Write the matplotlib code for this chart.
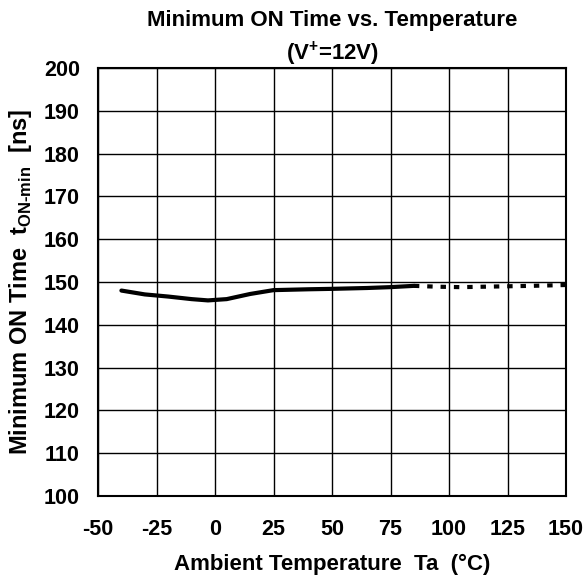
import numpy as np
import matplotlib.pyplot as plt

plt.rcParams['font.family'] = ['Liberation Sans', 'DejaVu Sans']
plt.rcParams['font.weight'] = 'bold'
plt.rcParams['mathtext.fontset'] = 'custom'
plt.rcParams['mathtext.rm'] = 'Liberation Sans:bold'
plt.rcParams['mathtext.bf'] = 'Liberation Sans:bold'

# measured (solid) part
temp_solid = [-40, -30, -20, -10, -3, 5, 15, 25, 40, 50, 65, 75, 85]
ton_solid = [148.0, 147.1, 146.6, 146.0, 145.7, 146.0, 147.2, 148.1, 148.3, 148.4, 148.6, 148.8, 149.1]
# extrapolated (dashed) part
temp_dash = [85, 95, 105, 115, 125, 135, 150]
ton_dash = [149.1, 148.9, 148.8, 148.9, 149.0, 149.1, 149.3]

xticks = [-50, -25, 0, 25, 50, 75, 100, 125, 150]
yticks = [100, 110, 120, 130, 140, 150, 160, 170, 180, 190, 200]

fig = plt.figure(figsize=(5.87, 5.79), dpi=100)
ax = fig.add_axes([98/587, 1-496/579, 468/587, 428/579])

ax.plot(temp_solid, ton_solid, color='black', lw=3, solid_capstyle='round')
ax.plot(temp_dash, ton_dash, color='black', lw=3, dashes=(1.3, 1.9))

ax.set_xlim(-50, 150)
ax.set_ylim(100, 200)
ax.set_xticks(xticks)
ax.set_yticks(yticks)
ax.set_xticklabels([str(t) for t in xticks], fontsize=15.5, fontweight='bold')
ax.set_yticklabels([str(t) for t in yticks], fontsize=15.5, fontweight='bold')
ax.tick_params(length=0)
ax.tick_params(axis='y', pad=13)
ax.tick_params(axis='x', pad=16.5)
ax.grid(True, color='black', lw=1)
for s in ax.spines.values():
    s.set_linewidth(1.5)

ax.set_xlabel('Ambient Temperature  Ta  (°C)', fontsize=16, fontweight='bold', labelpad=10)
ax.set_ylabel(r'Minimum ON Time  t$_{\mathrm{ON\text{-}min}}$  [ns]', fontsize=17, fontweight='bold', labelpad=7)
ax.set_title('Minimum ON Time vs. Temperature\n(V$^{\\mathrm{+}}$=12V)', fontsize=16, fontweight='bold', pad=6, linespacing=1.42)

fig.savefig('out.png', dpi=100)
